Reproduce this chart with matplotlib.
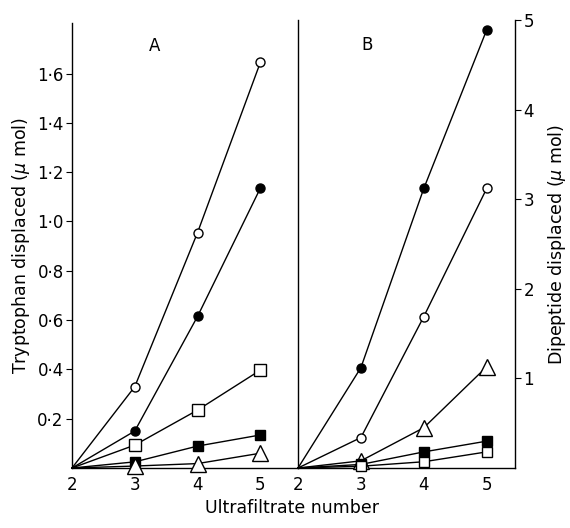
import numpy as np
import matplotlib.pyplot as plt

plt.rcParams['font.family'] = ['DejaVu Sans']

# 数据
x = [2, 3, 4, 5]
# A: 色氨酸 (μmol)
a_open_circle = [0, 0.33, 0.955, 1.645]
a_filled_circle = [0, 0.15, 0.615, 1.135]
a_open_square = [0, 0.093, 0.235, 0.397]
a_filled_square = [0, 0.025, 0.089, 0.134]
a_triangle = [0, 0.008, 0.018, 0.06]
# B: 二肽 (μmol)
b_filled_circle = [0, 1.12, 3.12, 4.89]
b_open_circle = [0, 0.34, 1.69, 3.12]
b_triangle = [0, 0.08, 0.45, 1.13]
b_filled_square = [0, 0.04, 0.18, 0.30]
b_open_square = [0, 0.02, 0.07, 0.18]

a_yticks = [0.2, 0.4, 0.6, 0.8, 1.0, 1.2, 1.4, 1.6]
a_ylabels = ['0·2', '0·4', '0·6', '0·8', '1·0', '1·2', '1·4', '1·6']
b_yticks = [1, 2, 3, 4, 5]
b_ylabels = ['1', '2', '3', '4', '5']
xticks = [2, 3, 4, 5]

fig = plt.figure(figsize=(5.7, 5.28), dpi=100)
axA = fig.add_axes([0.1263, 0.1136, 0.3965, 0.8428])
axB = fig.add_axes([0.5228, 0.1136, 0.3807, 0.8485])

def draw(ax, y, marker, filled, ms):
    # 第一个点（原点）不画标记
    ax.plot(x, y, color='black', lw=1.0, marker=marker, ms=ms, markevery=[1, 2, 3],
            mfc='black' if filled else 'white', mec='black', mew=1.0,
            clip_on=False, zorder=3)

draw(axA, a_open_circle, 'o', False, 6.5)
draw(axA, a_filled_circle, 'o', True, 6.5)
draw(axA, a_open_square, 's', False, 8.5)
draw(axA, a_filled_square, 's', True, 7.5)
draw(axA, a_triangle, '^', False, 11)

draw(axB, b_filled_circle, 'o', True, 6.5)
draw(axB, b_open_circle, 'o', False, 6.5)
draw(axB, b_triangle, '^', False, 12)
draw(axB, b_filled_square, 's', True, 7.5)
draw(axB, b_open_square, 's', False, 7.5)

# 坐标轴 A
axA.set_xlim(2, 5.6)
axA.set_ylim(0, 1.805)
axA.spines['top'].set_visible(False)
axA.spines['right'].set_visible(False)
axA.set_yticks(a_yticks)
axA.set_yticklabels(a_ylabels)
axA.set_xticks(xticks)
axA.tick_params(axis='x', length=0, labelsize=12, pad=6)
axA.tick_params(axis='y', length=4, direction='out', labelsize=12, pad=2)
axA.set_ylabel('Tryptophan displaced ($\\mu$ mol)', fontsize=12.5, labelpad=4)
axA.text(3.32, 1.71, 'A', fontsize=12, ha='center', va='center')

# 坐标轴 B
axB.set_xlim(2, 5.45)
axB.set_ylim(0, 5)
axB.spines['top'].set_visible(False)
axB.yaxis.tick_right()
axB.yaxis.set_label_position('right')
axB.set_yticks(b_yticks)
axB.set_yticklabels(b_ylabels)
axB.set_xticks(xticks)
axB.tick_params(axis='x', length=0, labelsize=12, pad=6)
axB.tick_params(axis='y', length=4, direction='out', labelsize=12, pad=2)
axB.set_ylabel('Dipeptide displaced ($\\mu$ mol)', fontsize=12.5, labelpad=9)
axB.text(3.1, 4.72, 'B', fontsize=12, ha='center', va='center')

for ax in (axA, axB):
    for s in ax.spines.values():
        s.set_linewidth(1.0)

fig.text(0.512, 0.028, 'Ultrafiltrate number', fontsize=12.5, ha='center')

plt.savefig('out.png', dpi=100)
